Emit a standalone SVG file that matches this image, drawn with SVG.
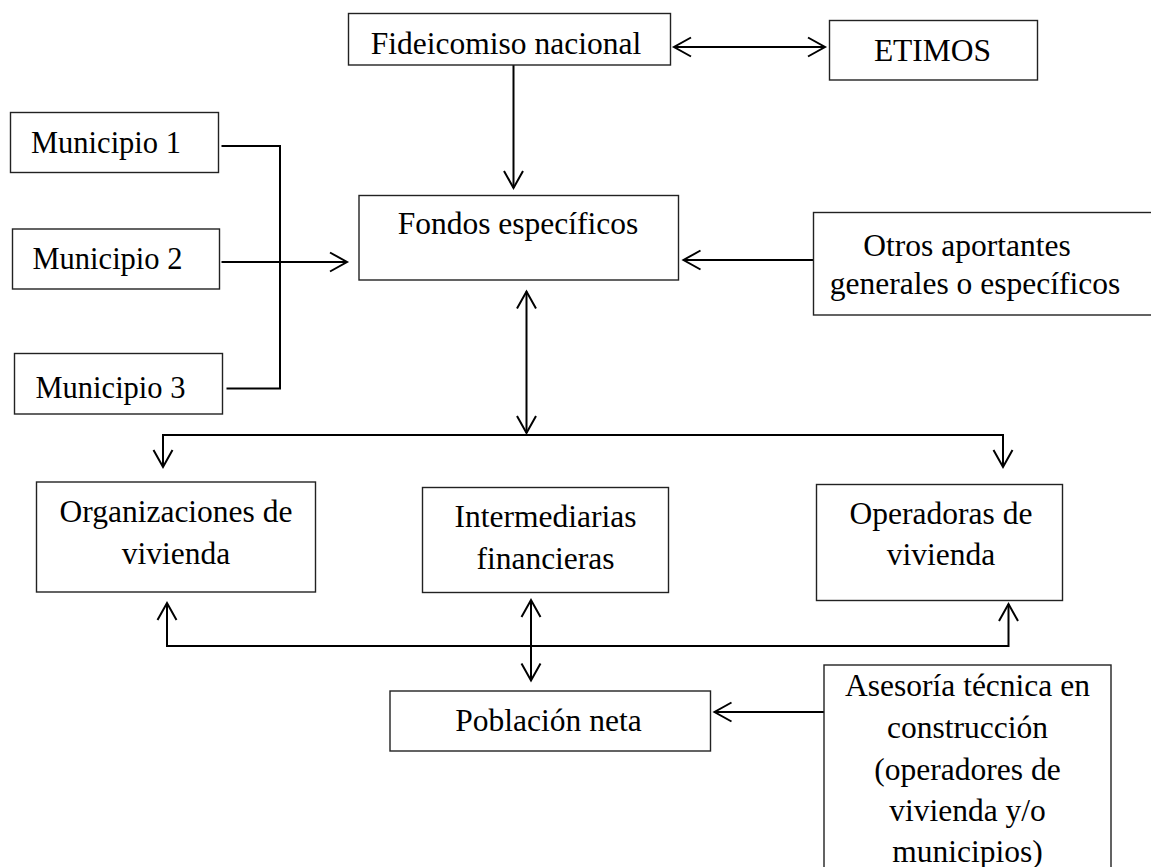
<svg xmlns="http://www.w3.org/2000/svg" width="1151" height="867" viewBox="0 0 1151 867">
<style>
.box{fill:#fff;stroke:#222;stroke-width:1.4}
.t{font-family:"Liberation Serif","Times New Roman",serif;font-size:31.5px;fill:#000;text-anchor:middle}
.tm{font-family:"Liberation Serif","Times New Roman",serif;font-size:30.5px;fill:#000}
.c{fill:none;stroke:#000;stroke-width:2}
</style>
<defs>
<marker id="ah" markerUnits="userSpaceOnUse" orient="auto-start-reverse" markerWidth="30" markerHeight="30" viewBox="-20 -15 30 30" refX="0" refY="0" overflow="visible">
<path d="M-17,-9.5 L0,0 L-17,9.5" fill="none" stroke="#000" stroke-width="2"/>
</marker>
</defs>
<rect width="1151" height="867" fill="#fff"/>
<g id="connectors">
<line class="c" x1="674" y1="47" x2="825" y2="47" marker-start="url(#ah)" marker-end="url(#ah)"/>
<line class="c" x1="513.5" y1="65" x2="513.5" y2="188" marker-end="url(#ah)"/>
<polyline class="c" points="221.5,146 280,146 280,388.5 226.5,388.5"/>
<line class="c" x1="221.5" y1="262" x2="347" y2="262" marker-end="url(#ah)"/>
<line class="c" x1="813.5" y1="260" x2="683.5" y2="260" marker-end="url(#ah)"/>
<line class="c" x1="526.5" y1="291.5" x2="526.5" y2="433" marker-start="url(#ah)" marker-end="url(#ah)"/>
<path class="c" d="M163,467 V435 H1003 V467" marker-start="url(#ah)" marker-end="url(#ah)"/>
<path class="c" d="M167,603 V646 H1008.5 V604" marker-start="url(#ah)" marker-end="url(#ah)"/>
<line class="c" x1="531" y1="600" x2="531" y2="680.5" marker-start="url(#ah)" marker-end="url(#ah)"/>
<line class="c" x1="824" y1="712" x2="714.5" y2="712" marker-end="url(#ah)"/>
</g>
<g id="fideicomiso">
<rect class="box" x="348.5" y="13.5" width="322" height="51.5"/>
<text class="t" x="506" y="54">Fideicomiso nacional</text>
</g>
<g id="etimos">
<rect class="box" x="829.5" y="20.5" width="208" height="59.5"/>
<text class="t" x="932.5" y="61">ETIMOS</text>
</g>
<g id="municipio1">
<rect class="box" x="10.5" y="112.5" width="208" height="60"/>
<text class="tm" x="31" y="153">Municipio 1</text>
</g>
<g id="municipio2">
<rect class="box" x="12.5" y="229" width="207" height="60"/>
<text class="tm" x="32.5" y="268.5">Municipio 2</text>
</g>
<g id="municipio3">
<rect class="box" x="14.5" y="353.5" width="208" height="60.5"/>
<text class="tm" x="35.5" y="397.5">Municipio 3</text>
</g>
<g id="fondos">
<rect class="box" x="359" y="195.5" width="319.5" height="84.5"/>
<text class="t" x="518" y="234">Fondos específicos</text>
</g>
<g id="otros">
<rect class="box" x="813.5" y="212.5" width="340" height="102.5"/>
<text class="t" x="967" y="256">Otros aportantes</text>
<text class="t" x="975" y="294">generales o específicos</text>
</g>
<g id="organizaciones">
<rect class="box" x="36.5" y="482" width="279" height="110"/>
<text class="t" x="176" y="521.5">Organizaciones de</text>
<text class="t" x="176" y="563.5">vivienda</text>
</g>
<g id="intermediarias">
<rect class="box" x="422.5" y="487.5" width="246" height="105"/>
<text class="t" x="545.5" y="527">Intermediarias</text>
<text class="t" x="545.5" y="569">financieras</text>
</g>
<g id="operadoras">
<rect class="box" x="816.5" y="484.5" width="246" height="116"/>
<text class="t" x="941" y="523.5">Operadoras de</text>
<text class="t" x="941" y="565">vivienda</text>
</g>
<g id="poblacion">
<rect class="box" x="390" y="691" width="320.5" height="60"/>
<text class="t" x="548.5" y="731">Población neta</text>
</g>
<g id="asesoria">
<rect class="box" x="824" y="665" width="287" height="215"/>
<text class="t" x="967.5" y="696">Asesoría técnica en</text>
<text class="t" x="967.5" y="738">construcción</text>
<text class="t" x="967.5" y="779.5">(operadores de</text>
<text class="t" x="967.5" y="821">vivienda y/o</text>
<text class="t" x="967.5" y="862">municipios)</text>
</g>
</svg>
